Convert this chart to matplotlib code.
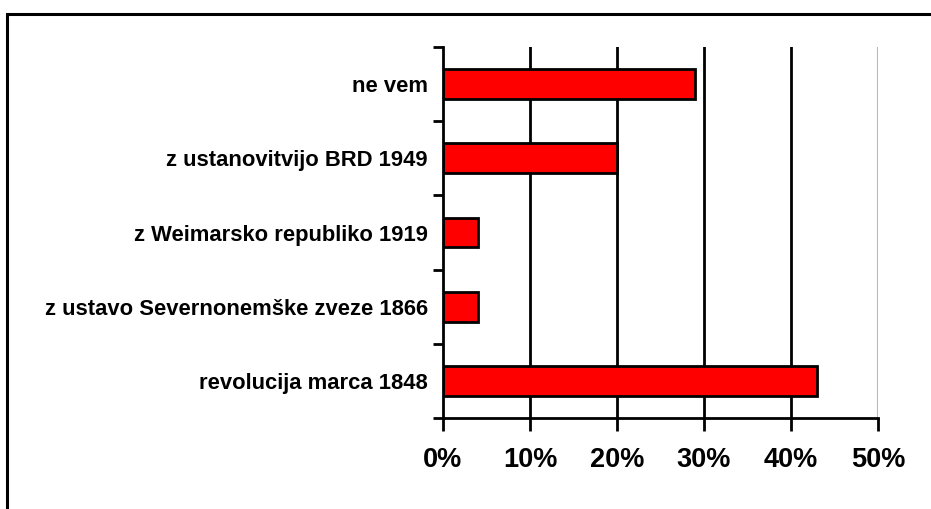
import matplotlib.pyplot as plt
from matplotlib.patches import Rectangle
from matplotlib.ticker import FixedLocator, PercentFormatter

plt.rcParams['font.family'] = ['Liberation Sans', 'DejaVu Sans']

# Answers, bottom to top as drawn
categories = [
    'revolucija marca 1848',
    'z ustavo Severnonemške zveze 1866',
    'z Weimarsko republiko 1919',
    'z ustanovitvijo BRD 1949',
    'ne vem',
]
shares = [43, 4, 4, 20, 29]
x_ticks = [0, 10, 20, 30, 40, 50]

fig = plt.figure(figsize=(9.31, 5.09), dpi=100)
W, H = 931, 509
ax = fig.add_axes([443 / W, 1 - 418 / H, 435 / W, 371 / H])

# frame around the whole chart area
fig.patches.append(Rectangle((7 / W, -0.1), 1.2, 1 - 14 / H + 0.1,
                             transform=fig.transFigure, fill=False,
                             edgecolor='black', linewidth=2.2))

pos = list(range(len(categories)))
ax.barh(pos, shares, height=0.4, color='#ff0000', edgecolor='black',
        linewidth=2, zorder=3)

# vertical gridlines
for x in x_ticks[1:-1]:
    ax.axvline(x, color='black', linewidth=2, zorder=1)
ax.axvline(x_ticks[-1], color='#b8b8b8', linewidth=1.5, zorder=1)

ax.set_xlim(0, 50)
ax.set_ylim(-0.5, len(categories) - 0.5)
ax.xaxis.set_major_locator(FixedLocator(x_ticks))
ax.xaxis.set_major_formatter(PercentFormatter(decimals=0))

ax.set_yticks(pos)
ax.set_yticklabels(categories, fontsize=15.8, fontweight='bold')
ax.set_yticks([p - 0.5 for p in pos] + [len(pos) - 0.5], minor=True)
ax.tick_params(axis='y', which='major', length=0, pad=10.8)
ax.tick_params(axis='y', which='minor', length=7, width=2, direction='out')
ax.tick_params(axis='x', length=9, width=2, direction='out', pad=12,
               labelsize=19.5)
for lbl in ax.get_xticklabels():
    lbl.set_fontweight('bold')

for side in ['top', 'right']:
    ax.spines[side].set_visible(False)
ax.spines['left'].set_linewidth(2)
ax.spines['bottom'].set_linewidth(2)
ax.spines['left'].set_zorder(4)

fig.savefig('out.png', dpi=100)
